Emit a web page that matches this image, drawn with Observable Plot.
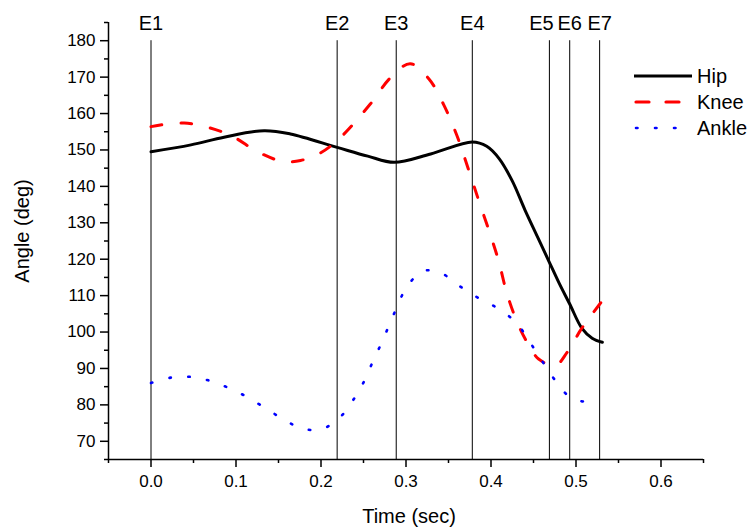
<!DOCTYPE html>
<html>
<head>
<meta charset="utf-8">
<script src="https://cdn.jsdelivr.net/npm/d3@7"></script>
<script src="https://cdn.jsdelivr.net/npm/@observablehq/plot@0.6"></script>
<style>
  html, body { margin: 0; padding: 0; background: #fff; }
  #wrap { position: relative; width: 752px; height: 528px; font-family: "Liberation Sans", Arial, sans-serif; }
  #legend { position: absolute; left: 0; top: 0; }
</style>
</head>
<body>
<div id="wrap"></div>
<script>
// ---- data ----
const hipT = [0.000, 0.047, 0.086, 0.133, 0.164, 0.219, 0.255, 0.286, 0.329, 0.378, 0.395, 0.410, 0.425, 0.440, 0.455, 0.468, 0.480, 0.4926, 0.507, 0.519, 0.531];
const hipV = [149.5, 151.4, 153.5, 155.3, 154.4, 150.7, 148.3, 146.6, 148.9, 152.2, 151.0, 147.5, 141.5, 133.5, 126.0, 119.5, 113.5, 107.7, 101.0, 98.3, 97.2];

const kneeT = [0.000, 0.039, 0.090, 0.127, 0.156, 0.176, 0.1995, 0.221, 0.258, 0.282, 0.305, 0.327, 0.344, 0.360, 0.374, 0.3856, 0.399, 0.409, 0.419, 0.4326, 0.446, 0.456, 0.4757, 0.4895, 0.505, 0.513, 0.531];
const kneeV = [156.4, 157.4, 154.4, 149.3, 146.8, 147.1, 149.2, 153.0, 162.6, 169.9, 173.7, 169.5, 162.6, 153.9, 144.3, 136.1, 126.9, 119.5, 110.4, 101.7, 95.8, 92.6, 90.8, 94.4, 100.4, 103.1, 108.6];

const ankleT = [0.000, 0.024, 0.046, 0.068, 0.090, 0.112, 0.134, 0.156, 0.178, 0.200, 0.222, 0.2386, 0.251, 0.261, 0.271, 0.2806, 0.290, 0.301, 0.3206, 0.3425, 0.3644, 0.3864, 0.408, 0.430, 0.4455, 0.460, 0.475, 0.4937, 0.5157, 0.525];
const ankleV = [86.0, 87.5, 87.7, 86.7, 84.8, 82.3, 79.2, 76.0, 73.5, 73.3, 76.5, 81.6, 86.6, 91.9, 96.9, 102.1, 107.2, 112.4, 116.8, 116.0, 112.4, 109.2, 106.5, 102.5, 97.3, 92.1, 86.9, 82.0, 80.8, 81.2];

const eventT = [0.000, 0.219, 0.2885, 0.378, 0.4687, 0.4926, 0.5278];
const eventLabels = ["E1", "E2", "E3", "E4", "E5", "E6", "E7"];

const xMajor = [0.0, 0.1, 0.2, 0.3, 0.4, 0.5, 0.6];
const xMinor = [-0.05, 0.05, 0.15, 0.25, 0.35, 0.45, 0.55, 0.65];
const yMajor = [70, 80, 90, 100, 110, 120, 130, 140, 150, 160, 170, 180];
const yMinor = [65, 75, 85, 95, 105, 115, 125, 135, 145, 155, 165, 175, 185];

const seriesNames = ["Hip", "Knee", "Ankle"];
const seriesColors = ["#000000", "#ff0000", "#0000ff"];

// ---- build tables ----
const hip = hipT.map((t, i) => ({t, v: hipV[i]}));
const knee = kneeT.map((t, i) => ({t, v: kneeV[i]}));
const ankle = ankleT.map((t, i) => ({t, v: ankleV[i]}));
const events = eventT.map((t, i) => ({t, label: eventLabels[i]}));
const eventsMain = events.filter(d => d.label !== "E5");
const eventsE5 = events.filter(d => d.label === "E5");

const FONT = '"Liberation Sans", Arial, sans-serif';

const chart = Plot.plot({
  width: 752,
  height: 528,
  marginLeft: 108,
  marginRight: 49,
  marginTop: 22,
  marginBottom: 69,
  style: {fontFamily: FONT, fontSize: "17px", color: "#000", background: "#fff"},
  x: {domain: [-0.05, 0.65], axis: null},
  y: {domain: [65, 185], axis: null},
  marks: [
    // axes
    Plot.axisX(xMajor, {tickSize: 8, tickFormat: d3.format(".1f"), tickPadding: 7, fontSize: 17, stroke: "#000", strokeWidth: 1.5, label: null}),
    Plot.axisX(xMinor, {tickSize: 4, tickFormat: () => "", stroke: "#000", strokeWidth: 1.5, label: null}),
    Plot.axisY(yMajor, {tickSize: 8, tickPadding: 5, fontSize: 17, stroke: "#000", strokeWidth: 1.5, label: null}),
    Plot.axisY(yMinor, {tickSize: 4, tickFormat: () => "", stroke: "#000", strokeWidth: 1.5, label: null}),
    Plot.ruleY([65], {stroke: "#000", strokeWidth: 1.5}),
    Plot.ruleX([-0.05], {stroke: "#000", strokeWidth: 1.5}),
    // event lines
    Plot.ruleX(events, {x: "t", y1: () => 180, y2: () => 65, stroke: "#000", strokeWidth: 1}),
    Plot.text(eventsMain, {x: "t", text: "label", frameAnchor: "top", lineAnchor: "middle", dy: 1, fontSize: 20, fill: "#000"}),
    Plot.text(eventsE5, {x: "t", text: "label", frameAnchor: "top", lineAnchor: "middle", dy: 1, dx: -8, fontSize: 20, fill: "#000"}),
    // series
    Plot.line(hip, {x: "t", y: "v", curve: "catmull-rom", stroke: seriesColors[0], strokeWidth: 3}),
    Plot.line(knee, {x: "t", y: "v", curve: "catmull-rom", stroke: seriesColors[1], strokeWidth: 3, strokeDasharray: "11 19", strokeLinecap: "round"}),
    Plot.line(ankle, {x: "t", y: "v", curve: "catmull-rom", stroke: seriesColors[2], strokeWidth: 2.6, strokeDasharray: "1.5 17.5", strokeLinecap: "round"}),
    // axis titles
    Plot.text(["Time (sec)"], {frameAnchor: "bottom", textAnchor: "middle", lineAnchor: "middle", dx: 3, dy: 57, fontSize: 20, fill: "#000"}),
    Plot.text(["Angle (deg)"], {frameAnchor: "left", textAnchor: "middle", rotate: -90, dx: -86, dy: -10, fontSize: 20, fill: "#000"})
  ]
});

const wrap = document.getElementById("wrap");
wrap.appendChild(chart);

// ---- legend ----
const dashes = ["none", "13 17", "1.5 17.5"];
const widths = [3, 3.2, 2.6];
const leg = d3.select(wrap).append("svg")
  .attr("id", "legend")
  .attr("width", 752).attr("height", 528)
  .style("pointer-events", "none");
seriesNames.forEach((name, i) => {
  const y = 76 + i * 26;
  leg.append("line")
    .attr("x1", i === 0 ? 634 : 636).attr("x2", 692).attr("y1", y).attr("y2", y)
    .attr("stroke", seriesColors[i]).attr("stroke-width", widths[i])
    .attr("stroke-dasharray", dashes[i])
    .attr("stroke-linecap", i === 0 ? "butt" : "round");
  leg.append("text")
    .attr("x", 697).attr("y", y).attr("dy", "0.36em")
    .attr("font-family", FONT).attr("font-size", 20).attr("fill", "#000")
    .text(name);
});
</script>
</body>
</html>
